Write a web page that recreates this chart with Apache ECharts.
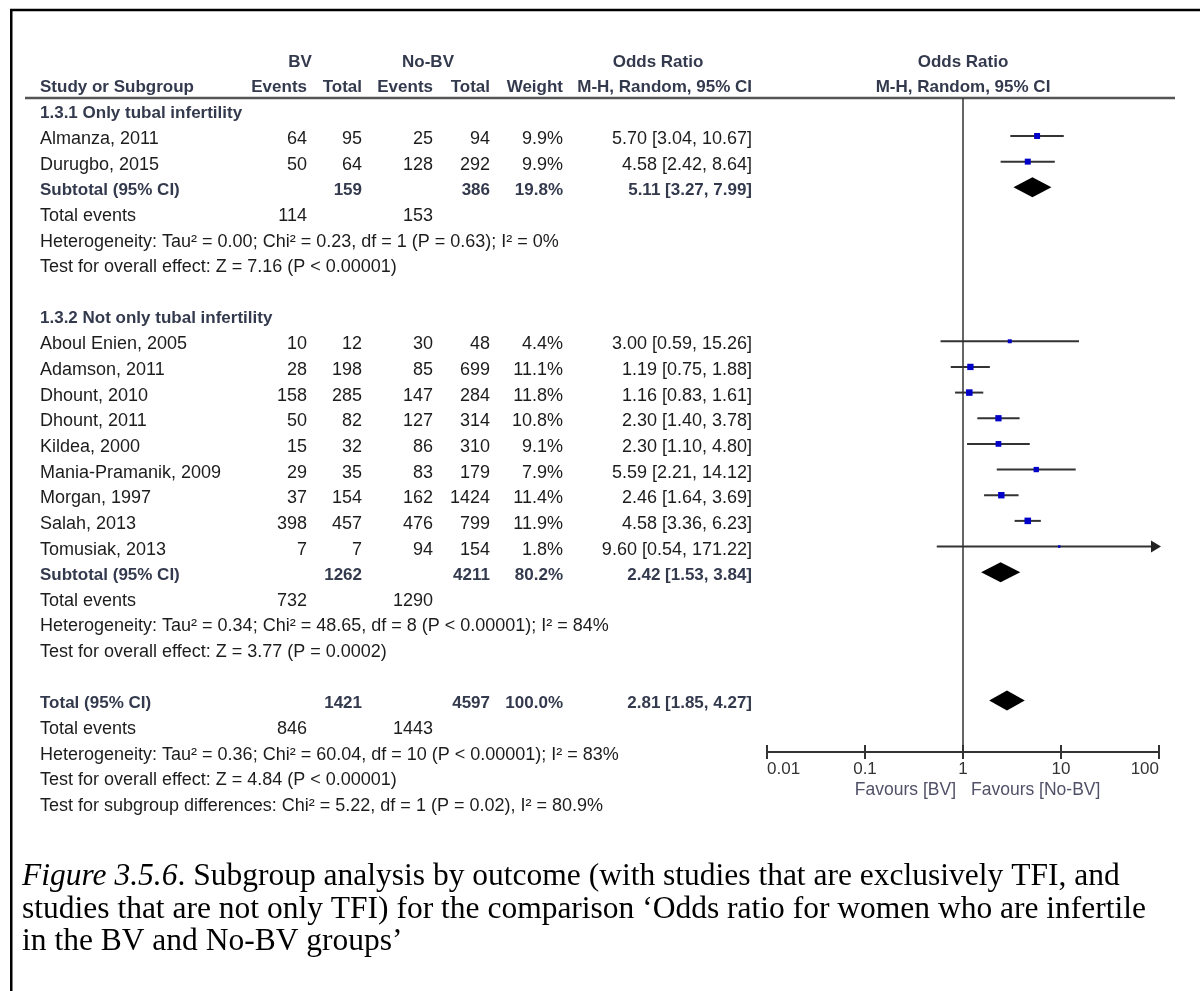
<!DOCTYPE html>
<html>
<head>
<meta charset="utf-8">
<script src="https://cdn.jsdelivr.net/npm/echarts@6/dist/echarts.min.js"></script>
<style>
  html, body { margin: 0; padding: 0; background: #fff; }
  #main { width: 1200px; height: 991px; }
</style>
</head>
<body>
<div id="main"></div>
<script>
// 1.3.1 Only tubal infertility
const studies1 = ['Almanza, 2011', 'Durugbo, 2015'];
const bvEvents1 = [64, 50];
const bvTotal1 = [95, 64];
const noEvents1 = [25, 128];
const noTotal1 = [94, 292];
const weight1 = [9.9, 9.9];
const or1 = [5.70, 4.58];
const lower1 = [3.04, 2.42];
const upper1 = [10.67, 8.64];

// 1.3.2 Not only tubal infertility
const studies2 = ['Aboul Enien, 2005', 'Adamson, 2011', 'Dhount, 2010', 'Dhount, 2011', 'Kildea, 2000',
  'Mania-Pramanik, 2009', 'Morgan, 1997', 'Salah, 2013', 'Tomusiak, 2013'];
const bvEvents2 = [10, 28, 158, 50, 15, 29, 37, 398, 7];
const bvTotal2 = [12, 198, 285, 82, 32, 35, 154, 457, 7];
const noEvents2 = [30, 85, 147, 127, 86, 83, 162, 476, 94];
const noTotal2 = [48, 699, 284, 314, 310, 179, 1424, 799, 154];
const weight2 = [4.4, 11.1, 11.8, 10.8, 9.1, 7.9, 11.4, 11.9, 1.8];
const or2 = [3.00, 1.19, 1.16, 2.30, 2.30, 5.59, 2.46, 4.58, 9.60];
const lower2 = [0.59, 0.75, 0.83, 1.40, 1.10, 2.21, 1.64, 3.36, 0.54];
const upper2 = [15.26, 1.88, 1.61, 3.78, 4.80, 14.12, 3.69, 6.23, 171.22];

// subtotals (1.3.1, 1.3.2) and overall total
const subBvTotal = [159, 1262];
const subNoTotal = [386, 4211];
const subWeight = [19.8, 80.2];
const subOr = [5.11, 2.42];
const subLower = [3.27, 1.53];
const subUpper = [7.99, 3.84];
const subBvEvents = [114, 732];
const subNoEvents = [153, 1290];

const totalCounts = [1421, 4597];
const totalWeight = 100.0;
const totalOr = [2.81, 1.85, 4.27];
const totalEvents = [846, 1443];

const heterogeneity = [
  'Heterogeneity: Tau² = 0.00; Chi² = 0.23, df = 1 (P = 0.63); I² = 0%',
  'Heterogeneity: Tau² = 0.34; Chi² = 48.65, df = 8 (P < 0.00001); I² = 84%',
  'Heterogeneity: Tau² = 0.36; Chi² = 60.04, df = 10 (P < 0.00001); I² = 83%'
];
const overallEffect = [
  'Test for overall effect: Z = 7.16 (P < 0.00001)',
  'Test for overall effect: Z = 3.77 (P = 0.0002)',
  'Test for overall effect: Z = 4.84 (P < 0.00001)'
];
const subgroupTest = 'Test for subgroup differences: Chi² = 5.22, df = 1 (P = 0.02), I² = 80.9%';
const groupTitles = ['1.3.1 Only tubal infertility', '1.3.2 Not only tubal infertility'];
const tickLabels = ['0.01', '0.1', '1', '10', '100'];

// layout
const ROW0 = 62, PITCH = 25.66, MARK_OFF = 3;
const rowY = i => ROW0 + i * PITCH;
const GRID_TOP = 98, GRID_BOTTOM_Y = 752;
const FONT = '"Liberation Sans", Arial, sans-serif';
const TXT = '#1c1c1c', BOLD = '#343a4e';

// row index of each item
const rows1 = studies1.map((s, i) => 3 + i);
const rows2 = studies2.map((s, i) => 11 + i);
const subRows = [5, 20];
const totalRow = 25;

const fmtOr = (o, l, u) => o.toFixed(2) + ' [' + l.toFixed(2) + ', ' + u.toFixed(2) + ']';
const fmtW = w => w.toFixed(1) + '%';

const studyData = [];
rows1.forEach((r, i) => studyData.push([or1[i], r, lower1[i], upper1[i], weight1[i]]));
rows2.forEach((r, i) => studyData.push([or2[i], r, lower2[i], upper2[i], weight2[i]]));
const diamondData = [
  [subOr[0], subRows[0], subLower[0], subUpper[0]],
  [subOr[1], subRows[1], subLower[1], subUpper[1]],
  [totalOr[0], totalRow, totalOr[1], totalOr[2]]
];

function renderStudy(params, api) {
  const r = api.value(1);
  const c = api.coord([api.value(0), r]);
  const lo = api.coord([api.value(2), r]);
  const hiVal = api.value(3);
  const clipped = hiVal > 100;
  const hi = api.coord([clipped ? 100 : hiVal, r]);
  const s = 1.9 * Math.sqrt(api.value(4));
  const children = [
    { type: 'line', shape: { x1: lo[0], y1: lo[1], x2: clipped ? hi[0] - 6 : hi[0], y2: hi[1] },
      style: { stroke: '#333', lineWidth: 2 } },
    { type: 'rect', shape: { x: c[0] - s / 2, y: c[1] - s / 2, width: s, height: s },
      style: { fill: '#0000c8' } }
  ];
  if (clipped) {
    children.push({ type: 'polygon',
      shape: { points: [[hi[0] - 8, hi[1] - 6], [hi[0] + 2, hi[1]], [hi[0] - 8, hi[1] + 6]] },
      style: { fill: '#222' } });
  }
  return { type: 'group', children: children };
}

function renderDiamond(params, api) {
  const r = api.value(1);
  const c = api.coord([api.value(0), r]);
  const lo = api.coord([api.value(2), r]);
  const hi = api.coord([api.value(3), r]);
  const h = 10;
  return { type: 'polygon',
    shape: { points: [[lo[0], c[1]], [c[0], c[1] - h], [hi[0], c[1]], [c[0], c[1] + h]] },
    style: { fill: '#000' } };
}

const chart = echarts.init(document.getElementById('main'), null, { renderer: 'canvas' });

const axisBase = {
  type: 'log', logBase: 10, min: 0.01, max: 100, position: 'bottom',
  splitLine: { show: false }, minorTick: { show: false }
};

chart.setOption({
  animation: false,
  backgroundColor: '#fff',
  grid: { left: 767, right: 41, top: GRID_TOP, bottom: 991 - GRID_BOTTOM_Y },
  xAxis: [
    Object.assign({}, axisBase, {
      axisLine: { lineStyle: { color: '#333', width: 2 } },
      axisTick: { length: 7, lineStyle: { color: '#333', width: 2 } },
      axisLabel: {
        color: '#333', fontSize: 17, fontFamily: FONT, margin: 9,
        alignMinLabel: 'left', alignMaxLabel: 'right',
        formatter: v => tickLabels[Math.round(Math.log10(v)) + 2]
      }
    }),
    Object.assign({}, axisBase, {
      axisLine: { show: false },
      axisTick: { inside: true, length: 7, lineStyle: { color: '#333', width: 2 } },
      axisLabel: { show: false }
    })
  ],
  yAxis: {
    type: 'value', inverse: true, show: false,
    min: (GRID_TOP - ROW0 + MARK_OFF) / PITCH,
    max: (GRID_BOTTOM_Y - ROW0 + MARK_OFF) / PITCH
  },
  series: [
    {
      type: 'custom', name: 'Pooled', renderItem: renderDiamond, data: diamondData, clip: false,
      markLine: {
        silent: true, symbol: 'none', label: { show: false },
        lineStyle: { color: '#333', width: 1.5, type: 'solid' },
        data: [{ xAxis: 1 }]
      }
    },
    { type: 'custom', name: 'Studies', renderItem: renderStudy, data: studyData, clip: false }
  ]
});

// table text, placed on the same rows as the plot marks
const xOne = chart.convertToPixel({ xAxisIndex: 0 }, 1);
const els = [];
function txt(x, row, str, align, bold, color) {
  els.push({
    type: 'text', silent: true,
    style: {
      text: String(str), x: x, y: rowY(row), align: align || 'right', verticalAlign: 'middle',
      fontFamily: FONT, fontSize: bold ? 17 : 18, fontWeight: bold ? 'bold' : 'normal',
      fill: color || (bold ? BOLD : TXT)
    }
  });
}
const COL = { name: 40, bvE: 307, bvT: 362, noE: 433, noT: 490, w: 563, or: 752 };

// header
txt(300, 0, 'BV', 'center', true);
txt(428, 0, 'No-BV', 'center', true);
txt(658, 0, 'Odds Ratio', 'center', true);
txt(xOne, 0, 'Odds Ratio', 'center', true);
txt(COL.name, 1, 'Study or Subgroup', 'left', true);
txt(COL.bvE, 1, 'Events', 'right', true);
txt(COL.bvT, 1, 'Total', 'right', true);
txt(COL.noE, 1, 'Events', 'right', true);
txt(COL.noT, 1, 'Total', 'right', true);
txt(COL.w, 1, 'Weight', 'right', true);
txt(COL.or, 1, 'M-H, Random, 95% CI', 'right', true);
txt(xOne, 1, 'M-H, Random, 95% CI', 'center', true);

function studyRows(rows, names, be, bt, ne, nt, w, o, l, u) {
  rows.forEach((r, i) => {
    txt(COL.name, r, names[i], 'left');
    txt(COL.bvE, r, be[i]);
    txt(COL.bvT, r, bt[i]);
    txt(COL.noE, r, ne[i]);
    txt(COL.noT, r, nt[i]);
    txt(COL.w, r, fmtW(w[i]));
    txt(COL.or, r, fmtOr(o[i], l[i], u[i]));
  });
}
function subtotalBlock(g, r) {
  txt(COL.name, r, 'Subtotal (95% CI)', 'left', true);
  txt(COL.bvT, r, subBvTotal[g], 'right', true);
  txt(COL.noT, r, subNoTotal[g], 'right', true);
  txt(COL.w, r, fmtW(subWeight[g]), 'right', true);
  txt(COL.or, r, fmtOr(subOr[g], subLower[g], subUpper[g]), 'right', true);
  txt(COL.name, r + 1, 'Total events', 'left');
  txt(COL.bvE, r + 1, subBvEvents[g]);
  txt(COL.noE, r + 1, subNoEvents[g]);
  txt(COL.name, r + 2, heterogeneity[g], 'left');
  txt(COL.name, r + 3, overallEffect[g], 'left');
}

txt(COL.name, 2, groupTitles[0], 'left', true);
studyRows(rows1, studies1, bvEvents1, bvTotal1, noEvents1, noTotal1, weight1, or1, lower1, upper1);
subtotalBlock(0, subRows[0]);

txt(COL.name, 10, groupTitles[1], 'left', true);
studyRows(rows2, studies2, bvEvents2, bvTotal2, noEvents2, noTotal2, weight2, or2, lower2, upper2);
subtotalBlock(1, subRows[1]);

txt(COL.name, totalRow, 'Total (95% CI)', 'left', true);
txt(COL.bvT, totalRow, totalCounts[0], 'right', true);
txt(COL.noT, totalRow, totalCounts[1], 'right', true);
txt(COL.w, totalRow, fmtW(totalWeight), 'right', true);
txt(COL.or, totalRow, fmtOr(totalOr[0], totalOr[1], totalOr[2]), 'right', true);
txt(COL.name, totalRow + 1, 'Total events', 'left');
txt(COL.bvE, totalRow + 1, totalEvents[0]);
txt(COL.noE, totalRow + 1, totalEvents[1]);
txt(COL.name, totalRow + 2, heterogeneity[2], 'left');
txt(COL.name, totalRow + 3, overallEffect[2], 'left');
txt(COL.name, totalRow + 4, subgroupTest, 'left');

// favours labels under the axis
els.push({ type: 'text', silent: true, style: { text: 'Favours [BV]', x: xOne - 7, y: 790,
  align: 'right', verticalAlign: 'middle', fontFamily: FONT, fontSize: 17.5, fill: '#505068' } });
els.push({ type: 'text', silent: true, style: { text: 'Favours [No-BV]', x: xOne + 8, y: 790,
  align: 'left', verticalAlign: 'middle', fontFamily: FONT, fontSize: 17.5, fill: '#505068' } });

// header rule and frame
els.push({ type: 'line', silent: true, shape: { x1: 25, y1: GRID_TOP, x2: 1175, y2: GRID_TOP },
  style: { stroke: '#555', lineWidth: 2.5 } });
els.push({ type: 'rect', silent: true, shape: { x: 11.25, y: 10, width: 1300, height: 1100 },
  style: { fill: null, stroke: '#000', lineWidth: 2.5 } });

// caption
const CAP = '"Liberation Serif", "Times New Roman", serif';
const capLines = [
  '{i|Figure 3.5.6}. Subgroup analysis by outcome (with studies that are exclusively TFI, and',
  'studies that are not only TFI) for the comparison ‘Odds ratio for women who are infertile',
  'in the BV and No-BV groups’'
];
capLines.forEach((line, i) => {
  els.push({ type: 'text', silent: true, style: {
    text: line, x: 22, y: 877 + i * 32.5, align: 'left', verticalAlign: 'middle',
    fontFamily: CAP, fontSize: 31.5, fill: '#000',
    rich: { i: { fontFamily: CAP, fontSize: 31.5, fontStyle: 'italic', fill: '#000' } }
  } });
});

chart.setOption({ graphic: { elements: els } });
</script>
</body>
</html>
